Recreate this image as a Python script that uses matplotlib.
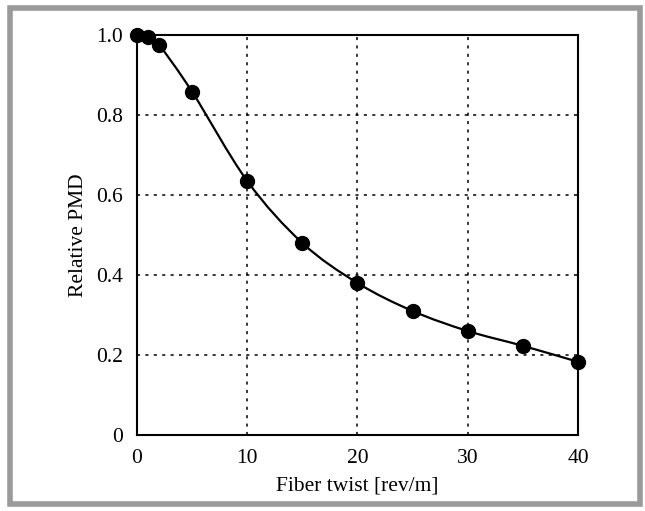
import numpy as np
import matplotlib
matplotlib.use('Agg')
import matplotlib.pyplot as plt
from matplotlib.path import Path
from matplotlib.patches import PathPatch, Rectangle

# data
twist = [0, 1, 2, 5, 10, 15, 20, 25, 30, 35, 40]
pmd = [1.0, 0.995, 0.975, 0.858, 0.635, 0.48, 0.38, 0.31, 0.26, 0.223, 0.183]
x_ticks = [0, 10, 20, 30, 40]
y_ticks = [0, 0.2, 0.4, 0.6, 0.8, 1.0]
y_labels = ['0', '0.2', '0.4', '0.6', '0.8', '1.0']

plt.rcParams['font.family'] = ['Liberation Serif', 'DejaVu Serif']

fig = plt.figure(figsize=(6.45, 5.11), dpi=100)
ax = fig.add_axes([0.2124, 0.1487, 0.6837, 0.7828])

# smooth curve through the points (Catmull-Rom as cubic bezier segments)
px = np.array(twist, float)
py = np.array(pmd, float)
verts = [(px[0], py[0])]
codes = [Path.MOVETO]
n = len(px)
for i in range(n - 1):
    i0 = max(i - 1, 0)
    i3 = min(i + 2, n - 1)
    c1 = (px[i] + (px[i + 1] - px[i0]) / 6, py[i] + (py[i + 1] - py[i0]) / 6)
    c2 = (px[i + 1] - (px[i3] - px[i]) / 6, py[i + 1] - (py[i3] - py[i]) / 6)
    verts += [c1, c2, (px[i + 1], py[i + 1])]
    codes += [Path.CURVE4] * 3
ax.add_patch(PathPatch(Path(verts, codes), facecolor='none', edgecolor='black', lw=1.6, zorder=3))

ax.plot(twist, pmd, 'o', color='black', markersize=10, clip_on=False, zorder=4)

ax.set_xlim(0, 40)
ax.set_ylim(0, 1.0)
ax.set_xticks(x_ticks)
ax.set_yticks(y_ticks)
ax.set_yticklabels(y_labels)
ax.tick_params(axis='y', length=0, labelsize=15.5, pad=10)
ax.tick_params(axis='x', length=0, labelsize=15.5, pad=10)
ax.grid(True, color='black', linestyle=(0, (2, 3.5)), linewidth=1.1)
for s in ax.spines.values():
    s.set_linewidth(1.5)

ax.set_xlabel('Fiber twist [rev/m]', fontsize=15.5, labelpad=6)
ax.set_ylabel('Relative PMD', fontsize=15.5, labelpad=6)

# gray frame around the figure
fig.patches.append(Rectangle((10 / 645, 7.5 / 511), 630 / 645, 496 / 511, transform=fig.transFigure,
                             fill=False, edgecolor='#9a9a9a', linewidth=4))

fig.savefig('out.png', dpi=100)
